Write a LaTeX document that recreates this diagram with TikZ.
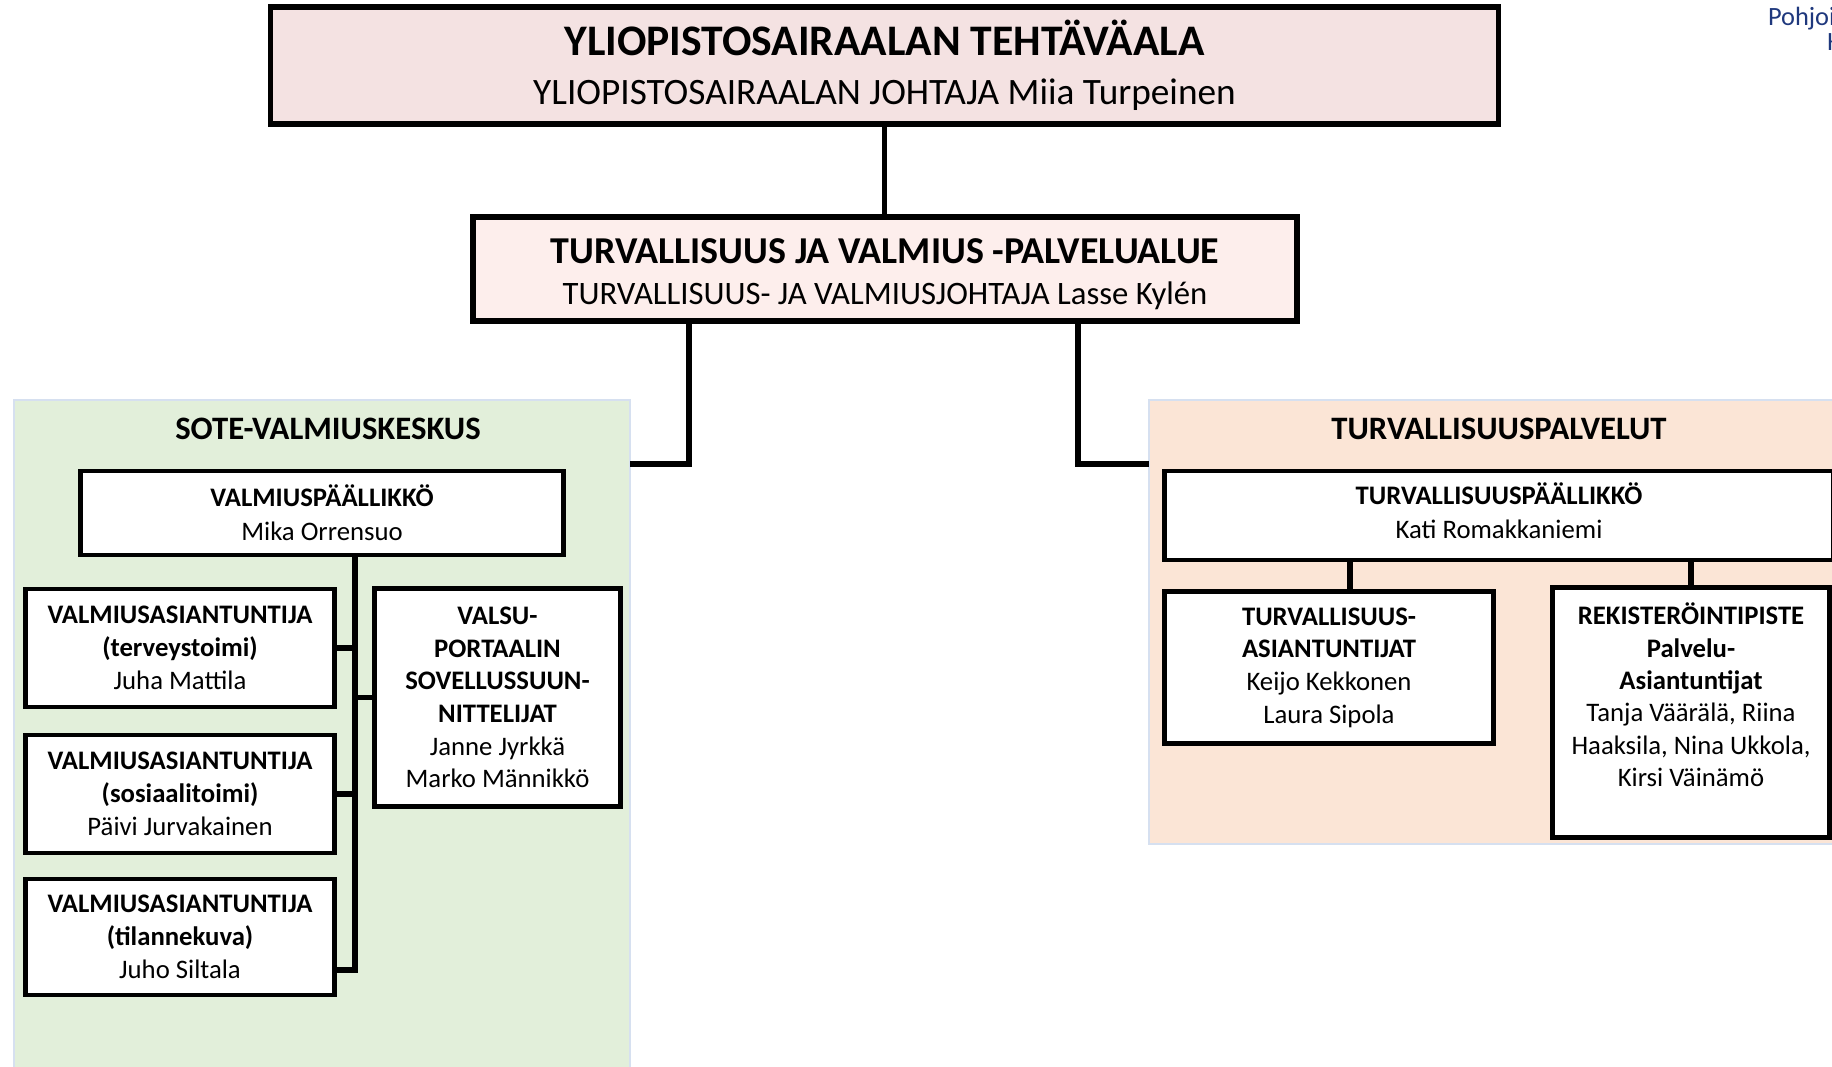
\documentclass[tikz,border=0pt]{standalone}
\usepackage{fontspec}
\setmainfont{Carlito}
\definecolor{hdr}{RGB}{244,226,226}
\definecolor{area}{RGB}{253,238,236}
\definecolor{sote}{RGB}{226,239,218}
\definecolor{turva}{RGB}{251,229,214}
\definecolor{edge}{RGB}{214,224,240}
\definecolor{logo}{RGB}{31,56,125}
\usetikzlibrary{positioning}
\tikzstyle{base}=[x=0.01cm, y=-0.01cm, inner sep=0pt, outer sep=0pt]
\tikzstyle{box}=[draw=black, line width=1.4pt, fill=white, align=center, font=\fontsize{7.6}{9.3}\selectfont]
\tikzstyle{panel}=[draw=edge, line width=0.7pt]
\tikzstyle{ptitle}=[font=\fontsize{9.3}{11}\selectfont\bfseries]
\tikzstyle{wire}=[black, line width=1.7pt]

\begin{document}
\begin{tikzpicture}[base]
    \path [use as bounding box] (0,0) rectangle (1832,1067);
        % panels
        \node [panel, fill=sote, minimum width=6.16cm, minimum height=6.75cm] (sotepanel) at (322,737.5) {};
        \node [panel, fill=turva, minimum width=7cm, minimum height=4.44cm] (turvapanel) at (1499,622) {};
        \node [ptitle] (sotetitle) at (328,429) {SOTE-VALMIUSKESKUS};
        \node [ptitle] (turvatitle) at (1499,429) {TURVALLISUUSPALVELUT};
        % top
        \node [box, fill=hdr, line width=1.6pt, minimum width=12.27cm, minimum height=1.17cm, font=\fontsize{10.6}{13.9}\selectfont] (uni) at (884.5,65.5)
            {{\fontsize{12.4}{13.9}\selectfont\textbf{YLIOPISTOSAIRAALAN TEHTÄVÄALA}}\\YLIOPISTOSAIRAALAN JOHTAJA Miia Turpeinen};
        \node [box, fill=area, line width=1.6pt, minimum width=8.24cm, minimum height=1.04cm] (area) at (885,269) {};
        \node [align=center, font=\fontsize{9.3}{11.7}\selectfont] (areatext) at (885,274)
            {{\fontsize{10.8}{11.7}\selectfont\textbf{TURVALLISUUS JA VALMIUS -PALVELUALUE}}\\TURVALLISUUS- JA VALMIUSJOHTAJA Lasse Kylén};
        % sote
        \node [box, minimum width=4.82cm, minimum height=0.84cm, font=\fontsize{7.6}{9.7}\selectfont] (valpaal) at (322,513) {\textbf{VALMIUSPÄÄLLIKKÖ}\\Mika Orrensuo};
        \node [box, minimum width=3.08cm, minimum height=1.18cm] (ter) at (180,648) {\textbf{VALMIUSASIANTUNTIJA}\\\textbf{(terveystoimi)}\\Juha Mattila};
        \node [box, minimum width=3.08cm, minimum height=1.18cm] (sos) at (180,794) {\textbf{VALMIUSASIANTUNTIJA}\\\textbf{(sosiaalitoimi)}\\Päivi Jurvakainen};
        \node [box, minimum width=3.08cm, minimum height=1.16cm] (til) at (180,937) {\textbf{VALMIUSASIANTUNTIJA}\\\textbf{(tilannekuva)}\\Juho Siltala};
        \node [box, minimum width=2.45cm, minimum height=2.17cm] (valsu) at (497.5,697.5)
            {\textbf{VALSU-}\\\textbf{PORTAALIN}\\\textbf{SOVELLUSSUUN-}\\\textbf{NITTELIJAT}\\Janne Jyrkkä\\Marko Männikkö};
        % turva
        \node [box, minimum width=6.68cm, minimum height=0.89cm] (tp) at (1499,515.5) {};
        \node [align=center, font=\fontsize{7.6}{9.7}\selectfont] (tptext) at (1499,511) {\textbf{TURVALLISUUSPÄÄLLIKKÖ}\\Kati Romakkaniemi};
        \node [box, minimum width=3.28cm, minimum height=1.51cm] (ta) at (1329,667.5)
            {\textbf{TURVALLISUUS-}\\\textbf{ASIANTUNTIJAT}\\Keijo Kekkonen\\Laura Sipola};
        \node [box, minimum width=2.76cm, minimum height=2.49cm] (rek) at (1691,712.5) {};
        \node [align=center, font=\fontsize{7.6}{9.2}\selectfont] (rektext) at (1691,695)
            {\textbf{REKISTERÖINTIPISTE}\\\textbf{Palvelu-}\\\textbf{Asiantuntijat}\\Tanja Väärälä, Riina\\Haaksila, Nina Ukkola,\\Kirsi Väinämö};
        % logo
        \node [anchor=base west, text=logo, font=\fontsize{7.5}{9}\selectfont] (logoa) at (1768,26) {Pohjoi};
        \node [anchor=base west, text=logo, font=\fontsize{7.5}{9}\selectfont] (logob) at (1827,51) {H};
        % wires
        \coordinate (arm) at (0,464);
        \coordinate (trunk) at (355,970);
        \draw [wire] (uni.south) -- (uni.south |- area.north);
        \draw [wire] ([xshift=-1.96cm]area.south) |- (sotepanel.east |- arm);
        \draw [wire] ([xshift=1.93cm]area.south) |- (turvapanel.west |- arm);
        \draw [wire] (valpaal.south -| trunk) -- (trunk) -- (til.east |- trunk);
        \draw [wire] (ter.east) -- (ter.east -| trunk);
        \draw [wire] (sos.east) -- (sos.east -| trunk);
        \draw [wire] (trunk |- valsu.west) -- (valsu.west);
        \draw [wire] ([xshift=2.1mm]ta.north) -- ([xshift=2.1mm]ta.north |- tp.south);
        \draw [wire] (rek.north) -- (rek.north |- tp.south);
    \end{tikzpicture}
\end{document}
